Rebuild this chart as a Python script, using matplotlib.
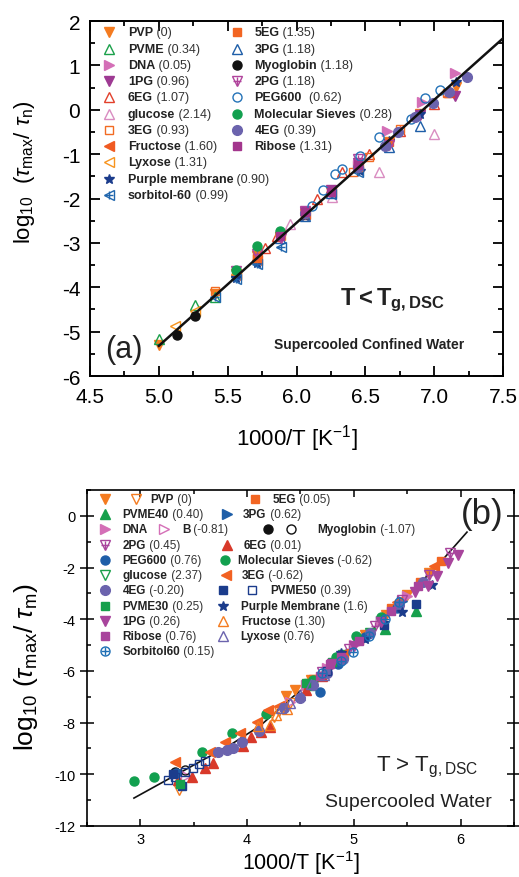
import matplotlib
matplotlib.use('Agg')
import matplotlib.pyplot as plt
from matplotlib.ticker import MultipleLocator, FormatStrFormatter

plt.rcParams['font.family'] = ['Liberation Sans', 'DejaVu Sans']
plt.rcParams['mathtext.fontset'] = 'custom'
plt.rcParams['mathtext.rm'] = 'Liberation Sans'
plt.rcParams['mathtext.it'] = 'Liberation Sans:italic'
plt.rcParams['mathtext.bf'] = 'Liberation Sans:bold'
plt.rcParams['axes.unicode_minus'] = False

# ---- panel (a): T < Tg,DSC, supercooled confined water ----
a_pvp_x = [5.00, 5.41, 5.56, 5.71, 5.88, 6.06, 6.25, 6.45, 6.67, 6.90, 7.16]
a_pvp_y = [-5.30, -4.15, -3.70, -3.30, -2.86, -2.35, -1.85, -1.30, -0.72, -0.10, 0.52]
a_pvme_x = [5.00, 5.26, 5.41, 5.56]
a_pvme_y = [-5.17, -4.40, -4.22, -3.66]
a_dna_x = [6.45, 6.66, 6.91, 7.15]
a_dna_y = [-1.25, -0.48, 0.17, 0.83]
a_1pg_x = [6.06, 6.25, 6.45, 6.67, 6.90, 7.15]
a_1pg_y = [-2.30, -1.80, -1.20, -0.78, -0.12, 0.30]
a_6eg_x = [5.77, 5.86, 6.15, 6.33, 6.53, 6.75, 7.00, 7.11]
a_6eg_y = [-3.12, -2.85, -2.02, -1.40, -1.00, -0.48, 0.13, 0.40]
a_glucose_x = [5.95, 6.26, 6.60, 7.00]
a_glucose_y = [-2.58, -1.97, -1.40, -0.55]
a_3eg_x = [5.41, 5.71, 6.06, 6.41, 6.53, 6.75, 7.09]
a_3eg_y = [-4.09, -3.35, -2.38, -1.40, -1.07, -0.44, 0.38]
a_fructose_x = [5.56, 5.71, 6.06, 6.25, 6.45]
a_fructose_y = [-3.72, -3.38, -2.35, -1.86, -1.28]
a_lyxose_x = [5.12, 5.26, 5.56, 5.88]
a_lyxose_y = [-4.87, -4.54, -3.70, -2.82]
a_pm_x = [5.56, 5.71, 6.06, 6.46, 6.67, 6.90, 7.16]
a_pm_y = [-3.80, -3.45, -2.40, -1.38, -0.70, -0.10, 0.63]
a_sorb_x = [5.41, 5.56, 5.71, 5.89, 6.25, 6.45]
a_sorb_y = [-4.22, -3.82, -3.47, -3.10, -1.90, -1.40]
a_5eg_x = [5.71, 6.06, 6.45, 6.67]
a_5eg_y = [-3.35, -2.35, -1.30, -0.72]
a_3pg_x = [5.88, 6.06, 6.25, 6.67, 6.90]
a_3pg_y = [-2.90, -2.40, -1.88, -0.85, -0.37]
a_myo_x = [5.13, 5.26]
a_myo_y = [-5.08, -4.65]
a_2pg_x = [5.56, 5.71, 5.89, 6.06, 6.45, 6.67]
a_2pg_y = [-3.64, -3.25, -2.88, -2.28, -1.10, -0.80]
a_peg_x = [6.11, 6.19, 6.28, 6.33, 6.46, 6.60, 6.83, 6.93, 7.04]
a_peg_y = [-2.17, -1.81, -1.45, -1.34, -1.05, -0.62, -0.21, 0.26, 0.44]
a_ms_x = [5.56, 5.71, 5.88, 6.06]
a_ms_y = [-3.62, -3.07, -2.74, -2.33]
a_4eg_x = [6.06, 6.45, 6.64, 6.74, 6.86, 6.99, 7.11, 7.24]
a_4eg_y = [-2.32, -1.28, -0.82, -0.50, -0.17, 0.15, 0.40, 0.74]
a_ribose_x = [5.88, 6.06, 6.25, 6.45]
a_ribose_y = [-2.85, -2.30, -1.85, -1.25]
a_fit_x = [5.0, 7.5]
a_fit_y = [-5.32, 1.61]

# ---- panel (b): T > Tg,DSC, supercooled water ----
b_pvp_x = [4.36, 4.45, 4.60, 4.75, 4.90, 5.10, 5.30, 5.50, 5.70]
b_pvp_y = [-6.97, -6.75, -6.35, -5.95, -5.45, -4.60, -3.85, -3.05, -2.20]
b_pvpo_x = [3.36, 4.25, 4.30, 4.40]
b_pvpo_y = [-10.60, -7.80, -7.55, -7.25]
b_5eg_x = [4.62, 4.80, 5.05, 5.35, 5.62, 5.82]
b_5eg_y = [-6.30, -5.70, -4.80, -3.55, -2.55, -1.75]
b_pvme40_x = [4.60, 4.85, 5.29, 5.58]
b_pvme40_y = [-6.55, -5.50, -4.38, -3.68]
b_3pg_x = [4.89, 5.05, 5.25, 5.45]
b_3pg_y = [-5.46, -4.85, -4.05, -3.30]
b_dna_x = [4.55, 4.75, 5.00, 5.25, 5.50]
b_dna_y = [-6.55, -5.90, -5.00, -4.05, -3.10]
b_dnab_x = [3.43, 4.40]
b_dnab_y = [-10.06, -7.20]
b_myo_x = [3.32]
b_myo_y = [-9.92]
b_myoo_x = [3.42]
b_myoo_y = [-9.83]
b_2pg_x = [4.70, 4.95, 5.20, 5.45, 5.70, 5.90]
b_2pg_y = [-6.05, -5.15, -4.25, -3.25, -2.30, -1.45]
b_6eg_x = [3.35, 3.48, 3.61, 3.68, 3.96, 4.04, 4.13, 4.21, 4.55, 4.70]
b_6eg_y = [-10.22, -10.10, -9.76, -9.56, -8.91, -8.56, -8.37, -8.17, -6.75, -6.20]
b_peg_x = [3.33, 4.68, 4.85, 5.10, 5.40]
b_peg_y = [-9.95, -6.82, -5.75, -4.70, -3.55]
b_ms_x = [2.94, 3.13, 3.58, 3.86, 4.18, 4.62, 4.83, 5.02, 5.25]
b_ms_y = [-10.26, -10.10, -9.14, -8.40, -7.67, -6.35, -5.45, -4.65, -3.90]
b_glucose_x = [4.58, 4.90, 5.15]
b_glucose_y = [-6.50, -5.40, -4.55]
b_3eg_x = [3.32, 3.65, 3.79, 3.93, 4.09, 4.20, 4.30, 4.90, 5.40, 5.75]
b_3eg_y = [-9.52, -9.14, -8.75, -8.40, -7.98, -7.51, -7.35, -5.35, -3.35, -1.95]
b_4eg_x = [3.73, 3.81, 3.87, 3.95, 4.11, 4.35, 4.50, 4.62, 4.75, 4.90, 5.15, 5.42, 5.65]
b_4eg_y = [-9.13, -9.06, -8.98, -8.75, -8.32, -7.45, -7.05, -6.55, -6.10, -5.55, -4.55, -3.45, -2.55]
b_pvme50_x = [3.31, 3.39, 5.28, 5.58]
b_pvme50_y = [-9.99, -10.45, -4.22, -3.41]
b_pvme50o_x = [3.26, 3.32, 3.42, 3.49, 3.55, 3.61, 4.75]
b_pvme50o_y = [-10.22, -10.10, -9.91, -9.76, -9.60, -9.49, -6.00]
b_pvme30_x = [3.37, 4.55, 4.80]
b_pvme30_y = [-10.37, -6.45, -5.65]
b_pm_x = [4.88, 5.10, 5.45, 5.73]
b_pm_y = [-5.30, -4.75, -3.72, -2.68]
b_1pg_x = [4.80, 5.00, 5.25, 5.57, 5.69, 5.78, 5.88, 5.98]
b_1pg_y = [-5.75, -5.05, -4.10, -2.95, -2.72, -2.33, -1.83, -1.52]
b_fructose_x = [4.10, 4.21, 4.27, 4.37]
b_fructose_y = [-8.15, -8.09, -7.70, -7.47]
b_ribose_x = [4.68, 4.78, 4.88, 5.05, 5.35, 5.60]
b_ribose_y = [-6.20, -5.75, -5.45, -4.85, -3.70, -2.70]
b_lyxose_x = [4.32, 4.40, 4.50, 4.60, 4.72]
b_lyxose_y = [-7.45, -7.25, -6.95, -6.50, -6.15]
b_sorb_x = [4.70, 4.88, 4.99, 5.14, 5.29, 5.42]
b_sorb_y = [-6.10, -5.60, -5.27, -4.65, -3.99, -3.33]
b_fit_x = [2.94, 3.30, 3.62, 3.84, 4.12, 4.43, 4.87, 5.20, 5.50, 5.80, 6.06]
b_fit_y = [-10.92, -10.10, -9.37, -8.87, -8.13, -7.00, -5.54, -4.30, -3.10, -1.85, -0.63]


def filled(m, c, ms=6.5):
    return [dict(marker=m, mfc=c, mec=c, ms=ms, ls='none')]


def hollow(m, c, ms=6.5):
    return [dict(marker=m, mfc='none', mec=c, mew=1.0, ms=ms, ls='none')]


def crossed(m, c, ms=6.5):
    return hollow(m, c, ms) + [dict(marker='+', mec=c, mew=1.0, ms=ms * 0.9, ls='none')]


def draw(ax, x, y, layers):
    for lay in layers:
        ax.plot(x, y, **lay)


def entry(ax, yf, marks, texts, fs):
    for xf, layers in marks:
        for lay in layers:
            ax.plot([xf], [yf], transform=ax.transAxes, clip_on=False, **lay)
    for xf, name, val in texts:
        t = ax.text(xf, yf, name, transform=ax.transAxes, fontsize=fs,
                    weight='bold', va='center', ha='left', color='#222')
        if val:
            ax.annotate(' ' + val, xy=(1, 0.5), xycoords=t, fontsize=fs,
                        va='center', ha='left', color='#333')


fig = plt.figure(figsize=(5.19, 8.78), dpi=100)

# ===================== panel (a) =====================
ax = fig.add_axes([0.1734, 0.5706, 0.7958, 0.4043])
ax.plot(a_fit_x, a_fit_y, color='#111111', lw=1.8, zorder=5)

A = {
    'PVP': (a_pvp_x, a_pvp_y, filled('v', '#f47b20')),
    'PVME': (a_pvme_x, a_pvme_y, hollow('^', '#1ba04b')),
    'DNA': (a_dna_x, a_dna_y, filled('>', '#d46fb7')),
    '1PG': (a_1pg_x, a_1pg_y, filled('v', '#9e3a93')),
    '6EG': (a_6eg_x, a_6eg_y, hollow('^', '#e2402b')),
    'glucose': (a_glucose_x, a_glucose_y, hollow('^', '#d98cc1')),
    '3EG': (a_3eg_x, a_3eg_y, hollow('s', '#f26b23', 6)),
    'Fructose': (a_fructose_x, a_fructose_y, filled('<', '#f05a22')),
    'Lyxose': (a_lyxose_x, a_lyxose_y, hollow('<', '#f7941e')),
    'Purple membrane': (a_pm_x, a_pm_y, filled('*', '#1b3c8c', 7)),
    'sorbitol-60': (a_sorb_x, a_sorb_y, crossed('<', '#2066ad')),
    '5EG': (a_5eg_x, a_5eg_y, filled('s', '#f26522', 6)),
    '3PG': (a_3pg_x, a_3pg_y, hollow('^', '#1e5ea8')),
    'Myoglobin': (a_myo_x, a_myo_y, filled('o', '#111111')),
    '2PG': (a_2pg_x, a_2pg_y, crossed('v', '#b0449c')),
    'PEG600': (a_peg_x, a_peg_y, hollow('o', '#2473b8')),
    'Molecular Sieves': (a_ms_x, a_ms_y, filled('o', '#12a04f')),
    '4EG': (a_4eg_x, a_4eg_y, filled('o', '#6b63ad', 7)),
    'Ribose': (a_ribose_x, a_ribose_y, filled('s', '#a3368d', 6)),
}
for name, (x, y, lay) in A.items():
    draw(ax, x, y, lay)

a_col1 = [('PVP', '(0)'), ('PVME', '(0.34)'), ('DNA', '(0.05)'), ('1PG', '(0.96)'),
          ('6EG', '(1.07)'), ('glucose', '(2.14)'), ('3EG', '(0.93)'),
          ('Fructose', '(1.60)'), ('Lyxose', '(1.31)'),
          ('Purple membrane', '(0.90)'), ('sorbitol-60', '(0.99)')]
a_col2 = [('5EG', '(1.35)'), ('3PG', '(1.18)'), ('Myoglobin', '(1.18)'),
          ('2PG', '(1.18)'), ('PEG600', ' (0.62)'), ('Molecular Sieves', '(0.28)'),
          ('4EG', '(0.39)'), ('Ribose', '(1.31)')]
for i, (n, v) in enumerate(a_col1):
    entry(ax, 0.968 - i * 0.0458, [(0.046, A[n][2])], [(0.092, n, v)], 9)
for i, (n, v) in enumerate(a_col2):
    entry(ax, 0.968 - i * 0.0458, [(0.356, A[n][2])], [(0.398, n, v)], 9)

ax.set_xlim(4.5, 7.5)
ax.set_ylim(-6, 2)
ax.xaxis.set_major_locator(MultipleLocator(0.5))
ax.xaxis.set_minor_locator(MultipleLocator(0.25))
ax.yaxis.set_major_locator(MultipleLocator(1))
ax.yaxis.set_minor_locator(MultipleLocator(0.5))
ax.xaxis.set_major_formatter(FormatStrFormatter('%.1f'))
ax.tick_params(which='both', direction='in', top=True, right=True, labelsize=15, width=1.3)
ax.tick_params(which='major', length=7)
ax.tick_params(which='minor', length=3.5)
ax.tick_params(axis='x', which='major', pad=8)
ax.tick_params(axis='y', which='major', pad=7)
for s in ax.spines.values():
    s.set_linewidth(1.4)
ax.set_xlabel(r'1000/T [K$^{-1}$]', fontsize=16)
ax.xaxis.set_label_coords(0.5, -0.130)
ax.set_ylabel(r'log$_{10}$  ($\tau_{\mathrm{max}}$/ $\tau_{\mathrm{n}}$)', fontsize=16)
ax.yaxis.set_label_coords(-0.128, 0.577)
ax.text(0.731, 0.217, r'$\mathbf{T < T_{g,DSC}}$', transform=ax.transAxes,
        fontsize=17, ha='center', va='center', color='#222')
ax.text(0.677, 0.090, 'Supercooled Confined Water', transform=ax.transAxes,
        fontsize=10, weight='bold', ha='center', va='center', color='#222')
ax.text(0.083, 0.076, '(a)', transform=ax.transAxes, fontsize=22,
        ha='center', va='center', color='#222')

# ===================== panel (b) =====================
bx = fig.add_axes([0.1676, 0.0581, 0.8227, 0.3827])
bx.plot(b_fit_x, b_fit_y, color='#111111', lw=1.2, zorder=1)

B = {
    'PVP': (b_pvp_x, b_pvp_y, filled('v', '#f47b20')),
    'PVPo': (b_pvpo_x, b_pvpo_y, hollow('v', '#f47b20')),
    '5EG': (b_5eg_x, b_5eg_y, filled('s', '#f26522', 6)),
    'PVME40': (b_pvme40_x, b_pvme40_y, filled('^', '#16a04c')),
    '3PG': (b_3pg_x, b_3pg_y, filled('>', '#1e5ea8')),
    'DNA': (b_dna_x, b_dna_y, filled('>', '#d46fb7')),
    'B': (b_dnab_x, b_dnab_y, hollow('>', '#d46fb7')),
    'Myoglobin': (b_myo_x, b_myo_y, filled('o', '#111111')),
    'Myoglobino': (b_myoo_x, b_myoo_y, hollow('o', '#111111')),
    '2PG': (b_2pg_x, b_2pg_y, crossed('v', '#a8449c')),
    '6EG': (b_6eg_x, b_6eg_y, filled('^', '#d8392a')),
    'PEG600': (b_peg_x, b_peg_y, filled('o', '#1e5ea8')),
    'Molecular Sieves': (b_ms_x, b_ms_y, filled('o', '#12a04f')),
    'glucose': (b_glucose_x, b_glucose_y, hollow('v', '#1ba04b')),
    '3EG': (b_3eg_x, b_3eg_y, filled('<', '#f26122')),
    '4EG': (b_4eg_x, b_4eg_y, filled('o', '#6b63ad', 7)),
    'PVME50': (b_pvme50_x, b_pvme50_y, filled('s', '#1b3c8c', 6)),
    'PVME50o': (b_pvme50o_x, b_pvme50o_y, hollow('s', '#1b3c8c', 6)),
    'PVME30': (b_pvme30_x, b_pvme30_y, filled('s', '#16a04c', 6)),
    'Purple Membrane': (b_pm_x, b_pm_y, filled('*', '#1b3c8c', 7)),
    '1PG': (b_1pg_x, b_1pg_y, filled('v', '#a8449c', 7)),
    'Fructose': (b_fructose_x, b_fructose_y, hollow('^', '#f47b20')),
    'Ribose': (b_ribose_x, b_ribose_y, filled('s', '#a8449c', 6)),
    'Lyxose': (b_lyxose_x, b_lyxose_y, hollow('^', '#6b63ad')),
    'Sorbitol60': (b_sorb_x, b_sorb_y, crossed('o', '#1e6fb5')),
}
for name, (x, y, lay) in B.items():
    draw(bx, x, y, lay)

fs_b = 8.5
row = lambda i: 0.973 - i * 0.0453
entry(bx, row(0), [(0.042, B['PVP'][2]), (0.115, B['PVPo'][2])], [(0.149, 'PVP', '(0)')], fs_b)
entry(bx, row(1), [(0.042, B['PVME40'][2])], [(0.0836, 'PVME40', '(0.40)')], fs_b)
entry(bx, row(2), [(0.042, B['DNA'][2]), (0.180, B['B'][2])],
      [(0.0836, 'DNA', ''), (0.222, 'B', '(-0.81)')], fs_b)
b_col1 = [('2PG', '(0.45)'), ('PEG600', '(0.76)'), ('glucose', '(2.37)'),
          ('4EG', '(-0.20)'), ('PVME30', '(0.25)'), ('1PG', '(0.26)'),
          ('Ribose', '(0.76)'), ('Sorbitol60', '(0.15)')]
for i, (n, v) in enumerate(b_col1):
    entry(bx, row(i + 3), [(0.042, B[n][2])], [(0.0836, n, v)], fs_b)

entry(bx, row(0), [(0.393, B['5EG'][2])], [(0.434, '5EG', '(0.05)')], fs_b)
entry(bx, row(1), [(0.327, B['3PG'][2])], [(0.366, '3PG', '(0.62)')], fs_b)
entry(bx, row(2), [(0.425, B['Myoglobin'][2]), (0.477, B['Myoglobino'][2])],
      [(0.540, 'Myoglobin', '(-1.07)')], fs_b)
entry(bx, row(3), [(0.327, B['6EG'][2])], [(0.368, '6EG', '(0.01)')], fs_b)
entry(bx, row(4), [(0.323, B['Molecular Sieves'][2])], [(0.354, 'Molecular Sieves', '(-0.62)')], fs_b)
entry(bx, row(5), [(0.325, B['3EG'][2])], [(0.362, '3EG', '(-0.62)')], fs_b)
entry(bx, row(6), [(0.319, B['PVME50'][2]), (0.386, B['PVME50o'][2])],
      [(0.429, 'PVME50', '(0.39)')], fs_b)
entry(bx, row(7), [(0.319, B['Purple Membrane'][2])], [(0.361, 'Purple Membrane', '(1.6)')], fs_b)
entry(bx, row(8), [(0.319, B['Fructose'][2])], [(0.361, 'Fructose', '(1.30)')], fs_b)
entry(bx, row(9), [(0.319, B['Lyxose'][2])], [(0.358, 'Lyxose', '(0.76)')], fs_b)

bx.set_xlim(2.5, 6.5)
bx.set_ylim(-12, 1)
bx.xaxis.set_major_locator(MultipleLocator(1))
bx.xaxis.set_minor_locator(MultipleLocator(0.5))
bx.yaxis.set_major_locator(MultipleLocator(2))
bx.yaxis.set_minor_locator(MultipleLocator(1))
bx.tick_params(which='both', direction='in', top=True, right=True, labelsize=10.5, width=1.1)
bx.tick_params(which='major', length=5)
bx.tick_params(which='minor', length=3)
bx.tick_params(axis='y', which='major', direction='inout', length=10, pad=3)
bx.tick_params(axis='x', which='major', pad=4.5)
for s in bx.spines.values():
    s.set_linewidth(1.2)
bx.set_xlabel(r'1000/T [K$^{-1}$]', fontsize=15.5)
bx.xaxis.set_label_coords(0.5, -0.067)
bx.set_ylabel(r'log$_{10}$ ($\tau_{\mathrm{max}}$/ $\tau_{\mathrm{m}}$)', fontsize=19)
bx.yaxis.set_label_coords(-0.110, 0.476)
bx.text(0.796, 0.176, r'T > T$_{\mathrm{g,DSC}}$', transform=bx.transAxes,
        fontsize=16, ha='center', va='center', color='#222')
bx.text(0.752, 0.074, 'Supercooled Water', transform=bx.transAxes,
        fontsize=14, ha='center', va='center', color='#222')
bx.text(0.925, 0.929, '(b)', transform=bx.transAxes, fontsize=25,
        ha='center', va='center', color='#222')

fig.savefig('out.png', dpi=100)
